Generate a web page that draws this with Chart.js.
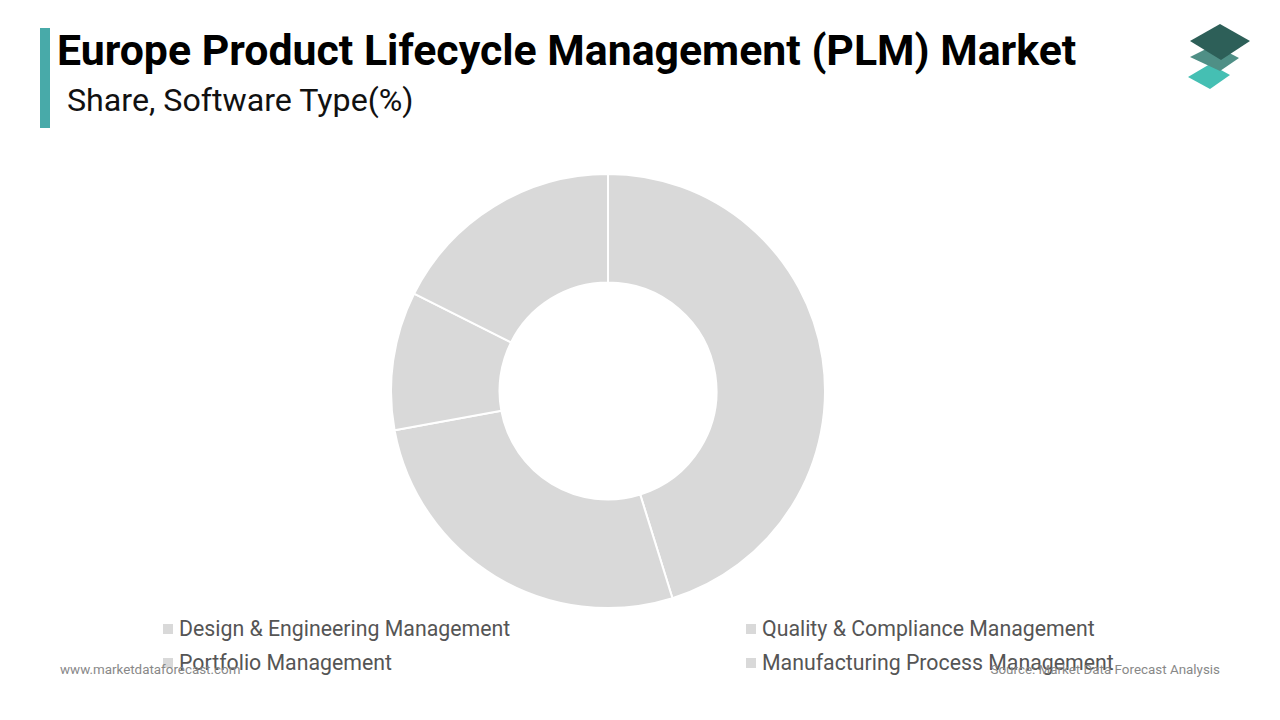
<!DOCTYPE html>
<html>
<head>
<meta charset="utf-8">
<script src="https://cdn.jsdelivr.net/npm/chart.js@4"></script>
<style>
  html, body { margin: 0; padding: 0; background: #fff; }
  body { width: 1280px; height: 720px; position: relative; overflow: hidden; font-family: Roboto, "Noto Sans", sans-serif; }
  .bar { position: absolute; left: 40px; top: 28px; width: 10px; height: 100px; background: #48aaa9; }
  h1 { position: absolute; left: 57px; top: 25px; margin: 0; font-size: 42.8px; font-weight: 700; color: #000; line-height: 50px; white-space: nowrap; }
  .sub { position: absolute; left: 67px; top: 82px; font-size: 32.2px; color: #111; line-height: 36px; white-space: nowrap; }
  .logo { position: absolute; left: 1180px; top: 18px; }
  .wrap { position: absolute; left: 390px; top: 173px; width: 436px; height: 436px; }
  .legend { position: absolute; font-size: 21.3px; color: #555; line-height: 24px; white-space: nowrap; }
  .legend i { display: inline-block; width: 10px; height: 10px; background: #d9d9d9; margin-right: 6px; vertical-align: 2px; }
  .foot { position: absolute; top: 662px; font-size: 13.4px; color: #888; line-height: 16px; white-space: nowrap; }
</style>
</head>
<body>
<div class="bar"></div>
<h1>Europe Product Lifecycle Management (PLM) Market</h1>
<div class="sub">Share, Software Type(%)</div>
<svg class="logo" width="80" height="80" viewBox="1180 18 80 80">
  <polygon points="1188,77 1210,64 1230,75 1210,89" fill="#45bfb3"/>
  <polygon points="1190,57 1214,45 1239,58 1220,71" fill="#4f8f86"/>
  <polygon points="1190,41 1220,24 1250,41 1221,60" fill="#2d5f58"/>
</svg>
<div class="wrap"><canvas id="pie"></canvas></div>
<div id="legend"></div>
<div class="foot" style="left:60px">www.marketdataforecast.com</div>
<div class="foot" style="right:60px">Source: Market Data Forecast Analysis</div>
<script>
const categories = [
  "Design & Engineering Management",
  "Quality & Compliance Management",
  "Portfolio Management",
  "Manufacturing Process Management",
];
const shares = [45.2, 26.9, 10.3, 17.6];
const sliceColor = "#d9d9d9";

new Chart(document.getElementById("pie"), {
  type: "doughnut",
  data: {
    labels: categories,
    datasets: [
      {
        data: shares,
        backgroundColor: sliceColor,
        borderColor: "#ffffff",
        borderWidth: 2,
      },
    ],
  },
  options: {
    responsive: true,
    maintainAspectRatio: false,
    animation: false,
    cutout: "50%",
    layout: { padding: 0 },
    plugins: { legend: { display: false }, tooltip: { enabled: false } },
  },
});

// legend laid out in two fixed columns like the original
const legendPos = [
  { left: 163, top: 617 },
  { left: 746, top: 617 },
  { left: 163, top: 651 },
  { left: 746, top: 651 },
];
document.getElementById("legend").innerHTML = categories
  .map(
    (name, i) =>
      `<div class="legend" style="left:${legendPos[i].left}px;top:${legendPos[i].top}px"><i></i>${name.replace("&", "&amp;")}</div>`,
  )
  .join("");
</script>
</body>
</html>
